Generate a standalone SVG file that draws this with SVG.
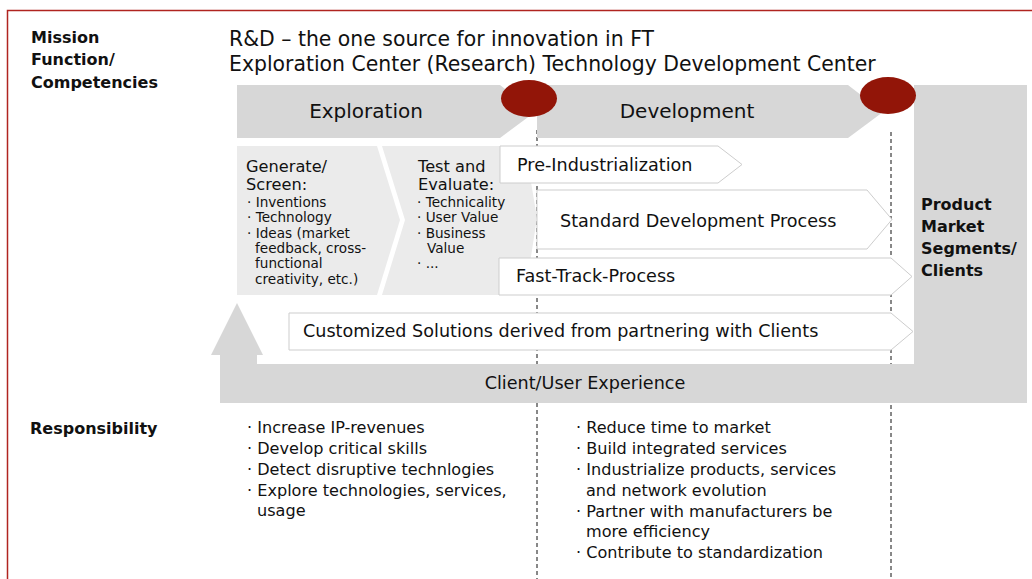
<svg xmlns="http://www.w3.org/2000/svg" width="1032" height="579" viewBox="0 0 1032 579">
  <style>
    text { font-family: "DejaVu Sans", "Liberation Sans", sans-serif; fill: #111; }
    .hd { font-weight: bold; font-size: 16px; }
    .title { font-size: 20px; }
    .heading { font-size: 20.4px; }
    .band { fill: #d7d7d7; }
    .panel { fill: #ebebeb; }
    .box { fill: #fff; stroke: #cdcdcd; stroke-width: 1; }
    .lbl { font-size: 17.6px; }
    .sm { font-size: 13.6px; }
    .sm16 { font-size: 16.2px; }
    .li { font-size: 16.1px; }
    .milestone { fill: #921508; }
    .divider { stroke: #111; stroke-width: 1; stroke-dasharray: 4 3; fill: none; }
  </style>

  <!-- frame -->
  <rect x="7.5" y="10.5" width="1040" height="600" fill="#fff" stroke="#b02420" stroke-width="1.5"/>

  <!-- phase dividers -->
  <g id="connectors">
    <line class="divider" x1="537" y1="130" x2="537" y2="579"/>
    <line class="divider" x1="891" y1="132" x2="891" y2="579"/>
  </g>

  <!-- row labels -->
  <g id="row-mission">
    <text class="hd" x="31" y="43">Mission</text>
    <text class="hd" x="31" y="65">Function/</text>
    <text class="hd" x="31" y="88">Competencies</text>
  </g>
  <g id="row-responsibility">
    <text class="hd" x="30" y="434">Responsibility</text>
  </g>

  <!-- heading -->
  <g id="title">
    <text class="heading" x="229" y="46">R&amp;D – the one source for innovation in FT</text>
    <text class="heading" x="229" y="71">Exploration Center (Research) Technology Development Center</text>
  </g>

  <!-- client column, client experience band and feedback arrow -->
  <g id="clients">
    <rect class="band" x="914" y="85" width="113" height="318"/>
    <rect class="band" x="220" y="364" width="807" height="39"/>
    <polygon class="band" points="211,355 237,303 263,355 257,355 257,364 220,364 220,355"/>
    <text class="hd" x="921" y="210">Product</text>
    <text class="hd" x="921" y="232">Market</text>
    <text class="hd" x="921" y="254">Segments/</text>
    <text class="hd" x="921" y="276">Clients</text>
  </g>
  <g id="client-experience">
    <text class="lbl" x="585" y="389" text-anchor="middle">Client/User Experience</text>
  </g>

  <!-- phases -->
  <g id="exploration">
    <polygon class="band" points="237,85 500,85 535,112 500,138 237,138"/>
    <text class="title" x="366" y="118" text-anchor="middle">Exploration</text>
  </g>
  <g id="development">
    <polygon class="band" points="537,85 848,85 883,112 848,138 537,138"/>
    <text class="title" x="687" y="118" text-anchor="middle">Development</text>
  </g>
  <g id="milestones">
    <ellipse class="milestone" cx="529" cy="98.5" rx="28" ry="18.5"/>
    <ellipse class="milestone" cx="888" cy="95.5" rx="28" ry="18.5"/>
  </g>

  <!-- exploration steps -->
  <g id="generate">
    <polygon class="panel" points="237,146 377,146 400,220 377,295 237,295"/>
    <text class="sm16" x="246" y="172">Generate/</text>
    <text class="sm16" x="246" y="190">Screen:</text>
    <text class="sm" x="247" y="207">· Inventions</text>
    <text class="sm" x="247" y="222">· Technology</text>
    <text class="sm" x="247" y="238">· Ideas (market</text>
    <text class="sm" x="255" y="253">feedback, cross-</text>
    <text class="sm" x="255" y="268">functional</text>
    <text class="sm" x="255" y="284">creativity, etc.)</text>
  </g>
  <g id="evaluate">
    <polygon class="panel" points="382,146 525,146 537,218 525,295 382,295 405,220"/>
    <text class="sm16" x="418" y="172">Test and</text>
    <text class="sm16" x="418" y="190">Evaluate:</text>
    <text class="sm" x="417" y="207">· Technicality</text>
    <text class="sm" x="417" y="222">· User Value</text>
    <text class="sm" x="417" y="238">· Business</text>
    <text class="sm" x="427" y="253">Value</text>
    <text class="sm" x="417" y="268">· ...</text>
  </g>

  <!-- process tracks -->
  <g id="pre-industrialization">
    <polygon class="box" points="500,146 718,146 742,164.5 718,183 500,183"/>
    <text class="lbl" x="517" y="171">Pre-Industrialization</text>
  </g>
  <g id="standard-process">
    <polygon class="box" points="537,190 867,190 892,219.5 867,249 537,249"/>
    <text class="lbl" x="560" y="227">Standard Development Process</text>
  </g>
  <g id="fast-track">
    <polygon class="box" points="499,258 891,258 912,276.5 891,295 499,295"/>
    <text class="lbl" x="516" y="282">Fast-Track-Process</text>
  </g>
  <g id="customized">
    <polygon class="box" points="289,313 891,313 913,331.5 891,350 289,350"/>
    <text class="lbl" x="303" y="337">Customized Solutions derived from partnering with Clients</text>
  </g>

  <!-- responsibilities -->
  <g id="resp-exploration">
    <text class="li" x="247" y="433">· Increase IP-revenues</text>
    <text class="li" x="247" y="454">· Develop critical skills</text>
    <text class="li" x="247" y="475">· Detect disruptive technlogies</text>
    <text class="li" x="247" y="496">· Explore technologies, services,</text>
    <text class="li" x="257" y="516">usage</text>
  </g>
  <g id="resp-development">
    <text class="li" x="576" y="433">· Reduce time to market</text>
    <text class="li" x="576" y="454">· Build integrated services</text>
    <text class="li" x="576" y="475">· Industrialize products, services</text>
    <text class="li" x="586" y="496">and network evolution</text>
    <text class="li" x="576" y="517">· Partner with manufacturers be</text>
    <text class="li" x="586" y="537">more efficiency</text>
    <text class="li" x="576" y="558">· Contribute to standardization</text>
  </g>
</svg>
